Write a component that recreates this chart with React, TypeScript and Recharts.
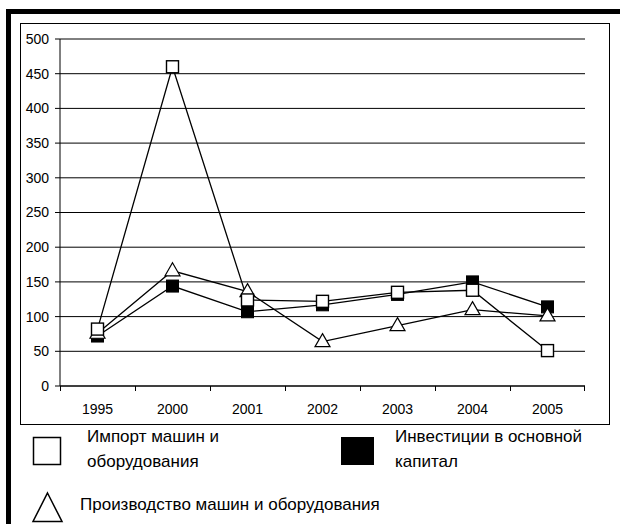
import React from 'react';
import { LineChart, Line, XAxis, YAxis, CartesianGrid } from 'recharts';

const years = ['1995', '2000', '2001', '2002', '2003', '2004', '2005'];
const importValues = [82, 460, 124, 122, 135, 138, 51];
const investValues = [72, 144, 107, 117, 132, 150, 114];
const productionValues = [76, 166, 136, 64, 87, 110, 101];
const yTicks = [0, 50, 100, 150, 200, 250, 300, 350, 400, 450, 500];

const FONT = '"Liberation Sans", Arial, sans-serif';
const PLOT_W = 525;
const BAND = PLOT_W / years.length;
const AXIS_Y = 386;

const chartData = years.map((year, i) => ({
  year,
  imp: importValues[i],
  inv: investValues[i],
  prod: productionValues[i],
}));

function OpenSquare(props: any) {
  const { cx, cy } = props;
  if (cx == null || cy == null) return null;
  return <rect x={cx - 6} y={cy - 6} width={12} height={12} fill="#fff" stroke="#000" strokeWidth={1.4} />;
}

function FilledSquare(props: any) {
  const { cx, cy } = props;
  if (cx == null || cy == null) return null;
  return <rect x={cx - 6} y={cy - 6} width={12} height={12} fill="#000" stroke="#000" strokeWidth={1} />;
}

function OpenTriangle(props: any) {
  const { cx, cy } = props;
  if (cx == null || cy == null) return null;
  const pts = `${cx},${cy - 8} ${cx + 7.5},${cy + 5} ${cx - 7.5},${cy + 5}`;
  return <polygon points={pts} fill="#fff" stroke="#000" strokeWidth={1.2} />;
}

function YearTick(props: any) {
  const { x, payload, index } = props;
  const left = Math.round(x - BAND / 2) + 0.5;
  const right = Math.round(x + BAND / 2) - 0.5;
  return (
    <g>
      <line x1={left} y1={AXIS_Y} x2={left} y2={AXIS_Y + 5} stroke="#000" />
      {index === years.length - 1 && <line x1={right} y1={AXIS_Y} x2={right} y2={AXIS_Y + 5} stroke="#000" />}
      <text x={x} y={AXIS_Y + 23} dy="0.355em" textAnchor="middle" fontSize={14} fontFamily={FONT} fill="#000">
        {payload.value}
      </text>
    </g>
  );
}

export default function App() {
  return (
    <div style={{ position: 'absolute', left: 0, top: 0, width: 620, height: 524, background: '#fff', overflow: 'hidden', fontFamily: FONT }}>
      <div style={{ position: 'absolute', left: 6, top: 9, width: 700, height: 600, borderTop: '5px solid #000', borderLeft: '5px solid #000', boxSizing: 'border-box' }} />
      <div style={{ position: 'absolute', left: 20, top: 23, width: 590, height: 402, border: '1px solid #000', boxSizing: 'border-box' }} />
      <div style={{ position: 'absolute', left: 0, top: 0 }}>
        <LineChart width={620} height={430} data={chartData} margin={{ top: 39, right: 35, bottom: 14, left: 0 }}>
          <CartesianGrid horizontal vertical={false} stroke="#000" strokeWidth={1} />
          <XAxis
            dataKey="year"
            stroke="#000"
            tickLine={false}
            tickSize={5}
            tickMargin={0}
            height={30}
            interval={0}
            padding={{ left: BAND / 2, right: BAND / 2 }}
            tick={<YearTick />}
          />
          <XAxis xAxisId="top" orientation="top" dataKey="year" tick={false} tickLine={false} stroke="#8c8c8c" height={0} />
          <YAxis
            domain={[0, 500]}
            ticks={yTicks}
            width={60}
            stroke="#000"
            tickSize={5}
            tickMargin={6}
            tick={{ fontSize: 14, fill: '#000', fontFamily: FONT }}
            interval={0}
          />
          <YAxis yAxisId="right" orientation="right" domain={[0, 500]} tick={false} tickLine={false} stroke="#8c8c8c" width={0} />
          <Line dataKey="inv" stroke="#000" strokeWidth={1.3} dot={<FilledSquare />} isAnimationActive={false} />
          <Line dataKey="prod" stroke="#000" strokeWidth={1.3} dot={<OpenTriangle />} isAnimationActive={false} />
          <Line dataKey="imp" stroke="#000" strokeWidth={1.3} dot={<OpenSquare />} isAnimationActive={false} />
        </LineChart>
      </div>
      <svg width={620} height={524} style={{ position: 'absolute', left: 0, top: 0, pointerEvents: 'none' }}>
        <rect x={33.5} y={437.5} width={27} height={27} fill="#fff" stroke="#000" strokeWidth={1.5} />
        <rect x={341} y={437} width={33} height={28} fill="#000" />
        <polygon points="47.5,493 62,521.5 33,521.5" fill="#fff" stroke="#000" strokeWidth={1.5} />
      </svg>
      <div style={{ position: 'absolute', left: 87, top: 424, fontSize: 17, lineHeight: '25px', color: '#000' }}>
        Импорт машин и<br />оборудования
      </div>
      <div style={{ position: 'absolute', left: 395, top: 424, fontSize: 17, lineHeight: '25px', color: '#000' }}>
        Инвестиции в основной<br />капитал
      </div>
      <div style={{ position: 'absolute', left: 80, top: 492, fontSize: 17, lineHeight: '25px', color: '#000', whiteSpace: 'nowrap' }}>
        Производство машин и оборудования
      </div>
    </div>
  );
}
